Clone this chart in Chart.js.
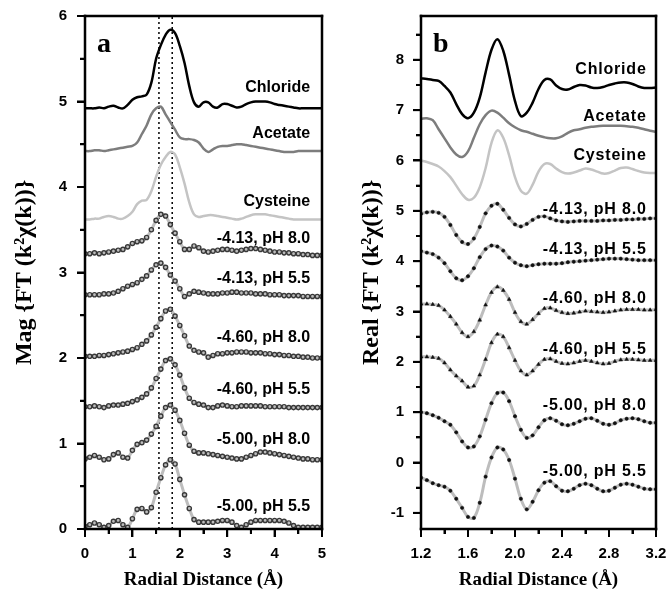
<!DOCTYPE html>
<html>
<head>
<meta charset="utf-8">
<script src="https://cdn.jsdelivr.net/npm/chart.js@4.4.1/dist/chart.umd.min.js"></script>
<style>
  body { margin: 0; background: #fff; }
  .panel { position: absolute; top: 0; height: 592px; }
  #pa { left: 0; width: 335px; }
  #pb { left: 335px; width: 336px; }
  .ovl { position: absolute; pointer-events: none; box-sizing: border-box; }
</style>
</head>
<body>
<div class="panel" id="pa"><canvas id="chartA" width="335" height="592"></canvas></div>
<div class="panel" id="pb"><canvas id="chartB" width="336" height="592"></canvas></div>
<script>
// panel a: magnitude of FT, radial distance 0..5
const rA = [0,0.1,0.2,0.3,0.4,0.5,0.6,0.7,0.8,0.9,
            1.0,1.1,1.2,1.3,1.4,1.5,1.6,1.7,1.8,1.9,
            2.0,2.1,2.2,2.3,2.4,2.5,2.6,2.7,2.8,2.9,
            3.0,3.1,3.2,3.3,3.4,3.5,3.6,3.7,3.8,3.9,
            4.0,4.1,4.2,4.3,4.4,4.5,4.6,4.7,4.8,4.9,
            5.0];
const magChloride = [4.92,4.92,4.92,4.93,4.92,4.94,4.95,4.93,4.92,4.96,
                     5.02,5.05,5.06,5.08,5.22,5.50,5.66,5.78,5.84,5.80,
                     5.65,5.45,5.18,4.99,4.94,4.99,4.99,4.94,4.93,4.97,
                     4.97,4.95,4.93,4.94,4.97,4.99,5.00,5.00,5.00,4.99,
                     4.97,4.96,4.95,4.94,4.93,4.92,4.92,4.92,4.92,4.92,
                     4.92];
const magAcetate = [4.42,4.42,4.43,4.43,4.42,4.43,4.44,4.45,4.46,4.47,
                    4.48,4.52,4.62,4.72,4.85,4.92,4.94,4.85,4.76,4.67,
                    4.58,4.56,4.56,4.55,4.52,4.45,4.41,4.44,4.47,4.48,
                    4.48,4.49,4.50,4.50,4.49,4.48,4.47,4.46,4.45,4.44,
                    4.43,4.42,4.41,4.41,4.41,4.42,4.42,4.42,4.42,4.42,
                    4.42];
const magCysteine = [3.62,3.62,3.63,3.63,3.65,3.66,3.65,3.63,3.63,3.66,
                     3.71,3.80,3.84,3.85,3.95,4.12,4.26,4.35,4.41,4.38,
                     4.23,4.04,3.82,3.68,3.65,3.66,3.67,3.67,3.66,3.65,
                     3.64,3.63,3.62,3.63,3.65,3.67,3.68,3.68,3.68,3.67,
                     3.66,3.65,3.64,3.63,3.62,3.62,3.62,3.62,3.62,3.62,
                     3.62];
const mag413p80 = [3.22,3.22,3.23,3.22,3.23,3.24,3.25,3.26,3.27,3.30,
                   3.34,3.36,3.37,3.41,3.50,3.61,3.68,3.66,3.56,3.46,
                   3.36,3.27,3.27,3.31,3.29,3.25,3.24,3.25,3.26,3.27,
                   3.27,3.26,3.25,3.26,3.27,3.28,3.28,3.27,3.26,3.25,
                   3.24,3.24,3.23,3.23,3.22,3.22,3.21,3.21,3.20,3.20,
                   3.20];
const mag413p55 = [2.74,2.74,2.74,2.74,2.75,2.75,2.76,2.78,2.81,2.84,
                   2.86,2.88,2.92,2.96,3.03,3.09,3.11,3.06,2.97,2.90,
                   2.81,2.72,2.75,2.78,2.77,2.76,2.75,2.75,2.75,2.76,
                   2.76,2.77,2.77,2.76,2.76,2.76,2.75,2.75,2.75,2.74,
                   2.74,2.74,2.73,2.73,2.73,2.73,2.72,2.72,2.72,2.72,
                   2.72];
const mag460p80 = [2.02,2.02,2.02,2.03,2.03,2.04,2.05,2.06,2.07,2.08,
                   2.10,2.12,2.16,2.20,2.27,2.36,2.46,2.55,2.57,2.49,
                   2.38,2.26,2.14,2.09,2.07,2.06,2.01,2.03,2.05,2.05,
                   2.06,2.06,2.07,2.07,2.07,2.06,2.06,2.06,2.05,2.05,
                   2.04,2.04,2.03,2.03,2.02,2.02,2.01,2.01,2.00,2.00,
                   2.00];
const mag460p55 = [1.43,1.43,1.44,1.43,1.42,1.44,1.45,1.45,1.46,1.47,
                   1.49,1.51,1.54,1.58,1.65,1.76,1.87,1.97,1.99,1.92,
                   1.80,1.65,1.53,1.48,1.46,1.45,1.42,1.42,1.44,1.45,
                   1.44,1.43,1.43,1.44,1.44,1.44,1.44,1.44,1.43,1.43,
                   1.43,1.43,1.43,1.42,1.42,1.42,1.42,1.42,1.42,1.42,
                   1.42];
const mag500p80 = [0.82,0.84,0.86,0.84,0.81,0.82,0.87,0.89,0.84,0.83,
                   0.92,0.99,1.01,1.04,1.11,1.20,1.32,1.42,1.45,1.39,
                   1.27,1.12,0.98,0.91,0.89,0.89,0.88,0.87,0.86,0.85,
                   0.84,0.83,0.82,0.82,0.84,0.86,0.88,0.90,0.90,0.89,
                   0.88,0.87,0.86,0.85,0.84,0.83,0.82,0.82,0.81,0.81,
                   0.81];
const mag500p55 = [0.03,0.05,0.07,0.05,0.02,0.04,0.09,0.10,0.05,0.02,
                   0.12,0.23,0.24,0.20,0.25,0.43,0.60,0.75,0.81,0.76,
                   0.58,0.40,0.24,0.11,0.08,0.08,0.08,0.08,0.09,0.10,
                   0.10,0.08,0.04,0.02,0.05,0.08,0.10,0.10,0.10,0.10,
                   0.10,0.10,0.09,0.07,0.04,0.02,0.02,0.02,0.02,0.02,
                   0.02];
const refLinesA = [1.56, 1.84];

// panel b: real part of FT, radial distance 1.2..3.2
const rB = [1.2,1.25,1.3,1.35,1.4,1.45,1.5,1.55,1.6,1.65,
            1.7,1.75,1.8,1.85,1.9,1.95,2.0,2.05,2.1,2.15,
            2.2,2.25,2.3,2.35,2.4,2.45,2.5,2.55,2.6,2.65,
            2.7,2.75,2.8,2.85,2.9,2.95,3.0,3.05,3.1,3.15,
            3.2];
const realChloride = [7.63,7.62,7.60,7.58,7.48,7.35,7.12,6.92,6.84,6.95,
                      7.25,7.75,8.20,8.41,8.18,7.70,7.18,6.88,6.95,7.15,
                      7.42,7.60,7.61,7.49,7.42,7.41,7.46,7.50,7.49,7.45,
                      7.44,7.46,7.50,7.53,7.55,7.55,7.52,7.47,7.44,7.44,
                      7.45];
const realAcetate = [6.83,6.84,6.80,6.62,6.44,6.26,6.12,6.07,6.18,6.45,
                     6.72,6.90,6.99,6.95,6.85,6.74,6.66,6.60,6.57,6.53,
                     6.49,6.46,6.44,6.44,6.48,6.55,6.60,6.62,6.65,6.67,
                     6.68,6.69,6.69,6.69,6.69,6.68,6.67,6.65,6.62,6.59,
                     6.57];
const realCysteine = [6.00,5.97,5.93,5.88,5.79,5.67,5.50,5.33,5.22,5.26,
                      5.47,5.85,6.35,6.60,6.45,6.10,5.67,5.40,5.34,5.52,
                      5.78,5.93,5.93,5.84,5.77,5.74,5.76,5.80,5.84,5.82,
                      5.78,5.74,5.75,5.80,5.85,5.86,5.83,5.79,5.76,5.75,
                      5.75];
const real413p80 = [4.94,4.97,4.98,4.96,4.88,4.72,4.52,4.38,4.34,4.45,
                    4.68,4.95,5.10,5.14,5.02,4.86,4.73,4.69,4.74,4.82,
                    4.88,4.89,4.85,4.81,4.79,4.78,4.79,4.80,4.80,4.80,
                    4.80,4.81,4.81,4.82,4.82,4.83,4.83,4.84,4.84,4.85,
                    4.85];
const real413p55 = [4.20,4.17,4.14,4.07,3.96,3.80,3.66,3.62,3.70,3.86,
                    4.08,4.24,4.31,4.29,4.21,4.07,3.97,3.92,3.90,3.92,
                    3.94,3.95,3.95,3.95,3.96,3.98,3.99,4.00,4.01,4.02,
                    4.03,4.04,4.05,4.05,4.05,4.04,4.03,4.02,4.02,4.02,
                    4.02];
const real460p80 = [3.15,3.15,3.14,3.12,3.03,2.90,2.75,2.58,2.50,2.60,
                    2.83,3.13,3.38,3.49,3.42,3.24,2.98,2.80,2.75,2.84,
                    2.96,3.06,3.07,3.02,2.98,2.96,2.97,2.99,3.01,3.00,
                    2.99,2.98,2.99,3.01,3.03,3.04,3.04,3.04,3.03,3.03,
                    3.04];
const real460p55 = [2.10,2.10,2.09,2.07,1.98,1.84,1.72,1.62,1.50,1.52,
                    1.74,2.05,2.38,2.55,2.50,2.28,2.03,1.82,1.74,1.82,
                    1.95,2.05,2.06,2.01,1.97,1.96,1.98,2.01,2.03,2.01,
                    1.98,1.96,1.97,2.01,2.04,2.05,2.05,2.04,2.03,2.03,
                    2.03];
const real500p80 = [1.00,0.98,0.94,0.89,0.82,0.75,0.60,0.42,0.30,0.32,
                    0.52,0.85,1.18,1.38,1.39,1.22,0.92,0.65,0.49,0.54,
                    0.70,0.84,0.88,0.83,0.76,0.74,0.77,0.82,0.87,0.88,
                    0.83,0.77,0.75,0.78,0.84,0.87,0.88,0.86,0.82,0.79,
                    0.79];
const real500p55 = [-0.30,-0.35,-0.41,-0.45,-0.48,-0.56,-0.72,-0.90,-1.08,-1.10,
                    -0.80,-0.28,0.10,0.30,0.26,0.05,-0.32,-0.72,-0.93,-0.78,
                    -0.55,-0.40,-0.37,-0.47,-0.56,-0.57,-0.52,-0.45,-0.42,-0.45,
                    -0.52,-0.57,-0.56,-0.50,-0.44,-0.42,-0.44,-0.48,-0.52,-0.53,
                    -0.53];

// curve labels
const curveNames = ['Chloride', 'Acetate', 'Cysteine',
                    '-4.13, pH 8.0', '-4.13, pH 5.5', '-4.60, pH 8.0',
                    '-4.60, pH 5.5', '-5.00, pH 8.0', '-5.00, pH 5.5'];
const labelYA = [5.16, 4.62, 3.83, 3.40, 2.93, 2.24, 1.63, 1.04, 0.26];
const labelYB = [7.80, 6.87, 6.09, 5.02, 4.23, 3.26, 2.24, 1.13, -0.17];

const pts = (xs, ys) => xs.map((x, i) => ({x: x, y: ys[i]}));

function refLine(xs, ys) {
    return { data: pts(xs, ys), borderColor: '#000', borderWidth: 1.5,
             borderDash: [2, 3], pointRadius: 0, order: 2 };
}
function solid(xs, ys, color) {
    return { data: pts(xs, ys), borderColor: color, borderWidth: 2.5,
             pointRadius: 0, tension: 0.35, order: 1 };
}
function fitLine(xs, ys) {
    return { data: pts(xs, ys), borderColor: '#bdbdbd', borderWidth: 3,
             pointRadius: 0, tension: 0.35, order: 1 };
}
function markA(xs, ys) {
    return { data: pts(xs, ys), showLine: false, pointStyle: 'circle',
             pointRadius: 2.1, pointBorderWidth: 1.4, pointBorderColor: '#383838',
             pointBackgroundColor: 'rgba(255,255,255,0)', order: 0 };
}
function markB(xs, ys, style) {
    return { data: pts(xs, ys), showLine: false, pointStyle: style,
             pointRadius: style === 'triangle' ? 2.2 : 1.7, pointBorderWidth: 0.5,
             pointBorderColor: '#111', pointBackgroundColor: '#111', order: 0 };
}

// small helper for the overlay frame / tick marks placed from the chart's own scales
function box(host, l, t, w, h, css) {
    const d = document.createElement('div');
    d.className = 'ovl';
    d.style.left = l + 'px'; d.style.top = t + 'px';
    d.style.width = w + 'px'; d.style.height = h + 'px';
    d.style.cssText += css;
    host.appendChild(d);
}

// frame, tick marks, panel letter and curve labels
function decor(letter, names, labelX, labelYs, spacing) {
    return {
        id: 'decor' + letter,
        afterDraw(chart) {
            const ctx = chart.ctx;
            const a = chart.chartArea;
            const sx = chart.scales.x, sy = chart.scales.y;
            const w = 2.5;
            const xt = sx.ticks.map(t => ({p: sx.getPixelForValue(t.value), len: t.label !== '' ? 8 : 5}));
            const yt = sy.ticks.map(t => ({p: sy.getPixelForValue(t.value), len: t.label !== '' ? 8 : 5}));
            ctx.save();
            ctx.fillStyle = '#000';
            ctx.fillRect(a.left - w / 2, a.top - w / 2, a.right - a.left + w, w);
            ctx.fillRect(a.left - w / 2, a.bottom - w / 2, a.right - a.left + w, w);
            ctx.fillRect(a.left - w / 2, a.top - w / 2, w, a.bottom - a.top + w);
            ctx.fillRect(a.right - w / 2, a.top - w / 2, w, a.bottom - a.top + w);
            xt.forEach(t => ctx.fillRect(t.p - 1, a.bottom, 2, t.len));
            yt.forEach(t => ctx.fillRect(a.left - t.len, t.p - 1, t.len, 2));
            ctx.font = 'bold 28px "Liberation Serif"';
            ctx.textAlign = 'left';
            ctx.textBaseline = 'alphabetic';
            ctx.fillText(letter, a.left + 12, a.top + 36);
            ctx.font = 'bold 16px "Liberation Sans"';
            ctx.textAlign = 'right';
            ctx.textBaseline = 'middle';
            ctx.letterSpacing = spacing;
            names.forEach((t, i) => {
                ctx.fillText(t, sx.getPixelForValue(labelX), sy.getPixelForValue(labelYs[i]));
            });
            ctx.restore();

            const host = chart.canvas.parentNode;
            if (!host.querySelector('.ovl')) {
                box(host, a.left - w / 2, a.top - w / 2, a.right - a.left + w, a.bottom - a.top + w,
                    'border:2.5px solid #000;');
                xt.forEach(t => box(host, t.p - 1, a.bottom, 2, t.len, 'background:#000;'));
                yt.forEach(t => box(host, a.left - t.len, t.p - 1, t.len, 2, 'background:#000;'));
            }
        }
    };
}

const tickFont = { family: 'Liberation Sans', weight: 'bold', size: 15 };
const titleFont = { family: 'Liberation Serif', weight: 'bold', size: 19 };
const yTitleFont = { family: 'Liberation Serif', weight: 'bold', size: 24 };

function axes(xmin, xmax, xstep, xfmt, ymin, ymax, yTitle, yWidth, yTitlePad, yTickPad) {
    return {
        x: {
            type: 'linear', min: xmin, max: xmax,
            ticks: { stepSize: xstep, autoSkip: false, maxRotation: 0, color: '#000',
                     font: tickFont, padding: 9, includeBounds: false, callback: xfmt },
            grid: { drawOnChartArea: false, drawTicks: true, tickLength: 7, tickColor: 'rgba(0,0,0,0)' },
            border: { display: false },
            title: { display: true, text: 'Radial Distance (Å)', color: '#000',
                     font: titleFont, padding: { top: 0, bottom: 1 } },
            afterFit: s => { s.height = 63; s.paddingLeft = 0; s.paddingRight = 0; }
        },
        y: {
            type: 'linear', min: ymin, max: ymax,
            ticks: { stepSize: 0.5, autoSkip: false, color: '#000', font: tickFont,
                     padding: yTickPad, includeBounds: false,
                     callback: v => Number.isInteger(v) ? String(v) : '' },
            grid: { drawOnChartArea: false, drawTicks: true, tickLength: 7, tickColor: 'rgba(0,0,0,0)' },
            border: { display: false },
            title: { display: true, text: yTitle, color: '#000',
                     font: yTitleFont, padding: { top: yTitlePad, bottom: 0 } },
            afterFit: s => { s.width = yWidth; s.paddingTop = 0; s.paddingBottom = 0; }
        }
    };
}

new Chart(document.getElementById('chartA'), {
    type: 'line',
    data: {
        datasets: [
            refLine([refLinesA[0], refLinesA[0]], [0, 6]),
            refLine([refLinesA[1], refLinesA[1]], [0, 6]),
            solid(rA, magChloride, '#000'),
            solid(rA, magAcetate, '#7d7d7d'),
            solid(rA, magCysteine, '#c4c4c4'),
            fitLine(rA, mag413p80), markA(rA, mag413p80),
            fitLine(rA, mag413p55), markA(rA, mag413p55),
            fitLine(rA, mag460p80), markA(rA, mag460p80),
            fitLine(rA, mag460p55), markA(rA, mag460p55),
            fitLine(rA, mag500p80), markA(rA, mag500p80),
            fitLine(rA, mag500p55), markA(rA, mag500p55)
        ]
    },
    options: {
        responsive: false,
        devicePixelRatio: 1,
        animation: false,
        layout: { padding: { top: 16, right: 13, left: 0, bottom: 0 } },
        plugins: { legend: { display: false }, tooltip: { enabled: false } },
        scales: axes(0, 5, 0.5, v => Number.isInteger(v) ? String(v) : '',
                     0, 6, 'Mag {FT (k²χ(k))}', 85, 10, 11)
    },
    plugins: [decor('a', curveNames, 4.75, labelYA, '0px')]
});

new Chart(document.getElementById('chartB'), {
    type: 'line',
    data: {
        datasets: [
            solid(rB, realChloride, '#000'),
            solid(rB, realAcetate, '#7d7d7d'),
            solid(rB, realCysteine, '#c4c4c4'),
            fitLine(rB, real413p80), markB(rB, real413p80, 'circle'),
            fitLine(rB, real413p55), markB(rB, real413p55, 'circle'),
            fitLine(rB, real460p80), markB(rB, real460p80, 'triangle'),
            fitLine(rB, real460p55), markB(rB, real460p55, 'triangle'),
            fitLine(rB, real500p80), markB(rB, real500p80, 'circle'),
            fitLine(rB, real500p55), markB(rB, real500p55, 'circle')
        ]
    },
    options: {
        responsive: false,
        devicePixelRatio: 1,
        animation: false,
        layout: { padding: { top: 16, right: 15, left: 0, bottom: 0 } },
        plugins: { legend: { display: false }, tooltip: { enabled: false } },
        scales: axes(1.2, 3.2, 0.2, v => Math.round(v * 10) % 4 === 0 ? v.toFixed(1) : '',
                     -1.32, 8.87, 'Real {FT (k²χ(k))}', 86, 22, 10)
    },
    plugins: [decor('b', curveNames, 3.12, labelYB, '0.8px')]
});
</script>
</body>
</html>
